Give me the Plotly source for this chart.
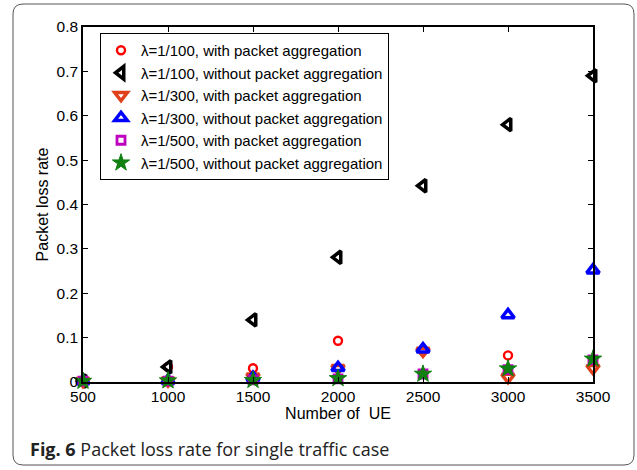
import plotly.graph_objects as go

# Number of user equipments on the x axis
ue = [500, 1000, 1500, 2000, 2500, 3000, 3500]

# Packet loss rate for each arrival rate, with / without aggregation
loss_100_with = [0.002, 0.034, 0.031, 0.093, 0.071, 0.060, 0.050]
loss_100_without = [0.002, 0.034, 0.140, 0.281, 0.442, 0.580, 0.690]
loss_300_with = [0.002, 0.003, 0.012, 0.031, 0.070, 0.011, 0.031]
loss_300_without = [0.002, 0.003, 0.010, 0.032, 0.074, 0.151, 0.252]
loss_500_with = [0.002, 0.002, 0.005, 0.007, 0.018, 0.028, 0.050]
loss_500_without = [0.002, 0.003, 0.004, 0.008, 0.018, 0.030, 0.052]

series_names = [
    "λ=1/100, with packet aggregation",
    "λ=1/100, without packet aggregation",
    "λ=1/300, with packet aggregation",
    "λ=1/300, without packet aggregation",
    "λ=1/500, with packet aggregation",
    "λ=1/500, without packet aggregation",
]

y_ticks = [0, 0.1, 0.2, 0.3, 0.4, 0.5, 0.6, 0.7, 0.8]
y_tick_text = ["0", "0.1", "0.2", "0.3", "0.4", "0.5", "0.6", "0.7", "0.8"]

W, H = 637, 470
ML, MR, MT, MB = 83, 44, 27, 88
PW, PH = W - ML - MR, H - MT - MB


def px_x(p):
    return (p - ML) / PW


def px_y(p):
    return (H - MB - p) / PH


styles = [
    dict(symbol="circle-open", color="#ff0000", size=8, line=dict(width=2.4, color="#ff0000")),
    dict(symbol="triangle-left-open", color="#000000", size=11, line=dict(width=3.5, color="#000000")),
    dict(symbol="triangle-down-open", color="#e0401a", size=11, line=dict(width=3.5, color="#e0401a")),
    dict(symbol="triangle-up-open", color="#0000ff", size=11, line=dict(width=3.5, color="#0000ff")),
    dict(symbol="square-open", color="#bf00bf", size=8, line=dict(width=2.8, color="#bf00bf")),
    dict(symbol="star", color="#108010", size=13, line=dict(width=1, color="#108010")),
]

data = [loss_100_with, loss_100_without, loss_300_with,
        loss_300_without, loss_500_with, loss_500_without]

fig = go.Figure()
for name, ys, st in zip(series_names, data, styles):
    fig.add_trace(go.Scatter(
        x=ue, y=ys, mode="markers", name=name,
        marker=st, cliponaxis=False,
    ))

font_main = "Liberation Sans, Arial, sans-serif"

axis_common = dict(
    showline=True, linecolor="black", linewidth=1.5, mirror="ticks",
    ticks="inside", ticklen=5, tickcolor="black", showgrid=False,
    zeroline=False, tickfont=dict(family=font_main, size=15.5, color="black"),
)

fig.update_xaxes(range=[500, 3500], tickvals=ue, ticktext=[str(v) for v in ue],
                 title=dict(text="Number of  UE", standoff=0,
                            font=dict(family=font_main, size=16, color="black")),
                 **axis_common)
fig.update_yaxes(range=[0, 0.8], tickvals=y_ticks, ticktext=y_tick_text,
                 title=dict(text="Packet loss rate", standoff=4,
                            font=dict(family=font_main, size=16, color="black")),
                 **axis_common)

# Rounded frame around the whole figure
bx0, bx1, by0, by1, r = 13, 634, 4, 465, 10
path = (
    f"M {px_x(bx0 + r)},{px_y(by0)} L {px_x(bx1 - r)},{px_y(by0)} "
    f"Q {px_x(bx1)},{px_y(by0)} {px_x(bx1)},{px_y(by0 + r)} "
    f"L {px_x(bx1)},{px_y(by1 - r)} "
    f"Q {px_x(bx1)},{px_y(by1)} {px_x(bx1 - r)},{px_y(by1)} "
    f"L {px_x(bx0 + r)},{px_y(by1)} "
    f"Q {px_x(bx0)},{px_y(by1)} {px_x(bx0)},{px_y(by1 - r)} "
    f"L {px_x(bx0)},{px_y(by0 + r)} "
    f"Q {px_x(bx0)},{px_y(by0)} {px_x(bx0 + r)},{px_y(by0)} Z"
)
fig.add_shape(type="path", path=path, xref="paper", yref="paper",
              line=dict(color="#555555", width=1), layer="below")

fig.add_annotation(
    text="<b>Fig. 6</b> Packet loss rate for single traffic case",
    xref="paper", yref="paper", x=px_x(28), y=px_y(449),
    xanchor="left", yanchor="middle", showarrow=False,
    font=dict(family="Open Sans, Noto Sans, sans-serif", size=18, color="#222222"),
)

fig.update_layout(
    width=W, height=H,
    margin=dict(l=ML, r=MR, t=MT, b=MB),
    paper_bgcolor="white", plot_bgcolor="white",
    showlegend=True,
    legend=dict(
        x=px_x(100), y=px_y(33), xanchor="left", yanchor="top",
        bgcolor="white", bordercolor="black", borderwidth=1,
        font=dict(family=font_main, size=15, color="black"),
        itemwidth=30,
    ),
)

fig.write_html("out.html")
